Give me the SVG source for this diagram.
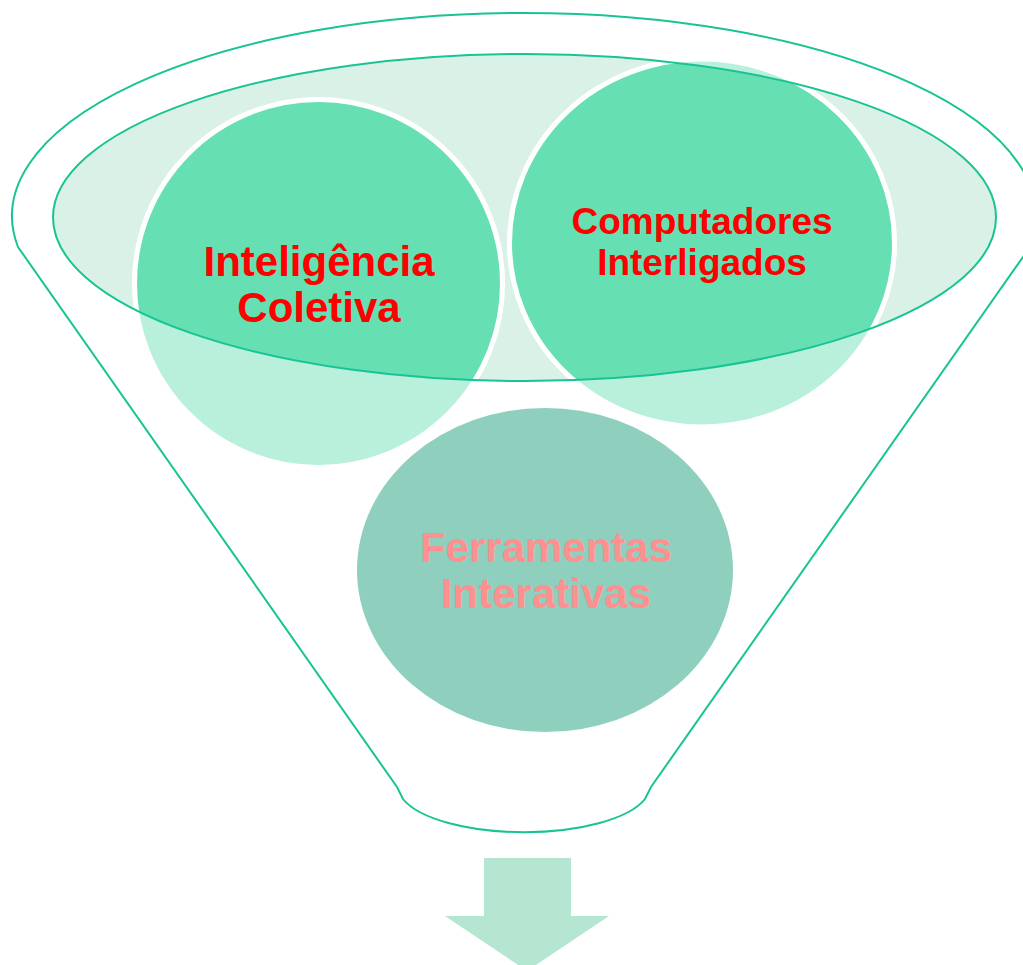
<svg xmlns="http://www.w3.org/2000/svg" width="1023" height="965" viewBox="0 0 1023 965">
<style>
.ln{fill:none;stroke:#19C494;stroke-width:2}
.c{fill:#66DFB3;stroke:#FFFFFF;stroke-width:5}
.t{font-family:"Liberation Sans",Arial,sans-serif;font-weight:bold;text-anchor:middle}
.red{fill:#FF0000}
.pink{fill:#FF9090}
</style>
<defs>
<clipPath id="inner"><ellipse cx="524.5" cy="217.5" rx="471.5" ry="163.5"/></clipPath>
</defs>
<rect width="1023" height="965" fill="#FFFFFF"/>
<g id="funnel">
<path class="ln" d="M18,247 A512,203 0 1 1 1030,247 L651,787 Q648,793 645,799 A126,46 0 0 1 403,799 Q400,793 397,787 Z"/>
<ellipse cx="524.5" cy="217.5" rx="471.5" ry="163.5" fill="#DAF1E7"/>
</g>
<g id="node-inteligencia">
<ellipse class="c" cx="318.5" cy="283.5" rx="184" ry="184" opacity="0.46"/>
<ellipse class="c" cx="318.5" cy="283.5" rx="184" ry="184" clip-path="url(#inner)"/>
</g>
<g id="node-computadores">
<ellipse class="c" cx="702" cy="243" rx="192.5" ry="184" opacity="0.46"/>
<ellipse class="c" cx="702" cy="243" rx="192.5" ry="184" clip-path="url(#inner)"/>
</g>
<g id="funnel-rim">
<ellipse class="ln" cx="524.5" cy="217.5" rx="471.5" ry="163.5"/>
</g>
<g id="node-ferramentas">
<ellipse cx="545" cy="570" rx="188" ry="162" fill="#8ECFBE"/>
<text class="t pink" x="546" y="562" font-size="42">Ferramentas</text>
<text class="t pink" x="546" y="608" font-size="42">Interativas</text>
</g>
<g id="labels">
<text class="t red" x="319" y="276" font-size="42">Inteligência</text>
<text class="t red" x="319" y="322" font-size="42">Coletiva</text>
<text class="t red" x="702" y="234" font-size="37">Computadores</text>
<text class="t red" x="702" y="275" font-size="37">Interligados</text>
</g>
<g id="connectors">
<path d="M484,858 L571,858 L571,916 L609,916 L527,971 L445,916 L484,916 Z" fill="#B5E6D1"/>
</g>
</svg>
